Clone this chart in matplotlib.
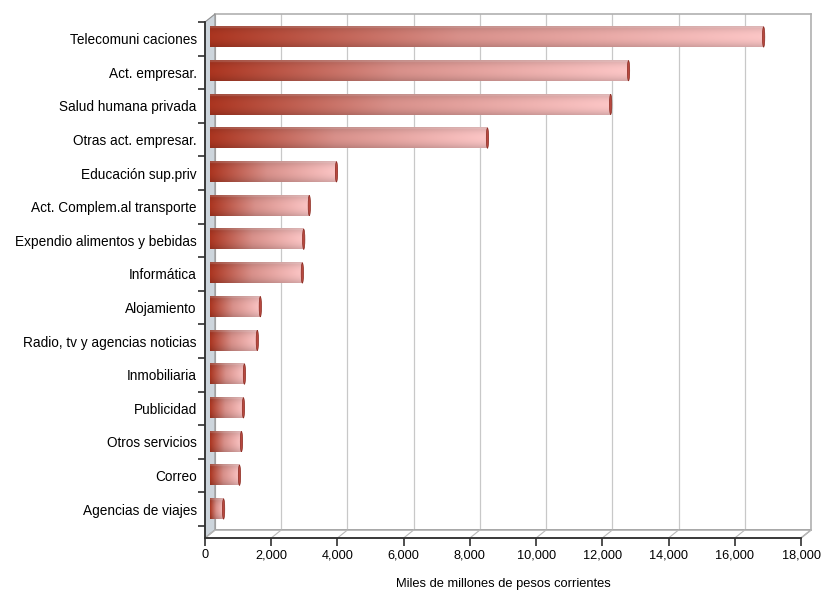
import numpy as np
import matplotlib
matplotlib.use("Agg")
import matplotlib.pyplot as plt
from matplotlib.patches import Polygon, Ellipse
from matplotlib.colors import to_rgb

# dati
categorie = ["Telecomuni caciones", "Act. empresar.", "Salud humana privada",
             "Otras act. empresar.", "Educación sup.priv", "Act. Complem.al transporte",
             "Expendio alimentos y bebidas", "Informática", "Alojamiento",
             "Radio, tv y agencias noticias", "Inmobiliaria", "Publicidad",
             "Otros servicios", "Correo", "Agencias de viajes"]
valori = [16720, 12640, 12100, 8380, 3820, 3000, 2830, 2790, 1520, 1430,
          1040, 1010, 950, 890, 410]
xticks = list(range(0, 18001, 2000))

plt.rcParams['font.family'] = ['Liberation Sans', 'DejaVu Sans']

W, H = 822, 599
fig = plt.figure(figsize=(W / 100, H / 100), dpi=100)

# geometria in pixel
x0, x1 = 205, 801
yb, yt = 538, 22
dx, dy = 10, 8

def fx(px):
    return px / W

def fy(py):
    return 1 - py / H

n = len(categorie)
spacing = (509 - 37) / (n - 1)

def limiti_y(top, bottom):
    return (n - 1 + (bottom - 509) / spacing, -(37 - top) / spacing)

# piano di fondo con griglia
back = fig.add_axes([fx(x0 + dx), fy(yb - dy), fx(x1 - x0), (yb - yt) / H], zorder=0)
back.set_xlim(0, 18000)
back.set_xticks(xticks)
back.grid(axis='x', color='#c8c8c8', lw=0.9)
back.tick_params(left=False, bottom=False, labelleft=False, labelbottom=False)
for s in back.spines.values():
    s.set_color('#b0b0b0')
    s.set_linewidth(1.2)

# parete sinistra e pavimento
wall = Polygon([(fx(x0), fy(yb)), (fx(x0), fy(yt)), (fx(x0 + dx), fy(yt - dy)),
                (fx(x0 + dx), fy(yb - dy))], closed=True, transform=fig.transFigure,
               facecolor='#cdd5dc', edgecolor='#909090', lw=0.8, zorder=1)
fig.add_artist(wall)
floor = Polygon([(fx(x0), fy(yb)), (fx(x1), fy(yb)), (fx(x1 + dx), fy(yb - dy)),
                 (fx(x0 + dx), fy(yb - dy))], closed=True, transform=fig.transFigure,
                facecolor='white', edgecolor='#a0a0a0', lw=1.0, zorder=1)
fig.add_artist(floor)
for t in xticks:
    px = x0 + (x1 - x0) * t / 18000
    fig.add_artist(plt.Line2D([fx(px), fx(px + dx)], [fy(yb), fy(yb - dy)],
                              transform=fig.transFigure, color='#b8b8b8', lw=0.8, zorder=1))

# barre a meta' profondita'
mx, my = dx / 2, dy / 2
bx = fig.add_axes([fx(x0 + mx), fy(yb - my), fx(x1 - x0), (yb - yt) / H], zorder=2)
bx.patch.set_alpha(0)
bx.axis('off')

c_left = np.array(to_rgb('#ab3520'))
c_mid = np.array(to_rgb('#d8908a'))
c_right = np.array(to_rgb('#fcc6c6'))
hgrid = np.linspace(0, 1, 200)
grad = np.where(hgrid[:, None] < 0.45,
                c_left + (c_mid - c_left) * (hgrid[:, None] / 0.45),
                c_mid + (c_right - c_mid) * ((hgrid[:, None] - 0.45) / 0.55))
vgrid = np.linspace(-1, 1, 30)
shade = 1 - 0.15 * vgrid ** 2
img = np.clip(grad[None, :, :] * shade[:, None, None], 0, 1)
img[:3] = np.clip(img[:3] * 0.85 + 0.15, 0, 1)

h = 0.6
for i, v in enumerate(valori):
    bx.imshow(img, extent=[0, v, i + h / 2, i - h / 2], aspect='auto',
              interpolation='bilinear', zorder=3)
    bx.add_patch(Ellipse((v, i), 70, h, facecolor='#b8483f', edgecolor='#8a2a20',
                         lw=0.5, zorder=4))
bx.set_xlim(0, 18000)
bx.set_ylim(*limiti_y(yt - my, yb - my))

# assi principali (etichette e tacche)
ax = fig.add_axes([fx(x0), fy(yb), fx(x1 - x0), (yb - yt) / H], zorder=3)
ax.patch.set_alpha(0)
ax.set_xlim(0, 18000)
ax.set_ylim(*limiti_y(yt, yb))

ax.set_yticks(np.arange(n + 1) - 0.5)
ax.set_yticklabels([])
ax.set_yticks(np.arange(n), minor=True)
ax.set_yticklabels(categorie, minor=True, fontsize=9.8)
ax.tick_params(axis='y', which='minor', length=0, pad=6)
ax.tick_params(axis='y', which='major', length=5, width=1.2, color='#303030')

ax.set_xticks(xticks)
ax.set_xticklabels([f"{t:,}" for t in xticks], fontsize=9.2)
ax.tick_params(axis='x', length=6, width=1.2, color='#303030', pad=2)
ax.set_xlabel("Miles de millones de pesos corrientes", fontsize=9.3, labelpad=12)

for s in ['top', 'right']:
    ax.spines[s].set_visible(False)
for s in ['left', 'bottom']:
    ax.spines[s].set_color('#303030')
    ax.spines[s].set_linewidth(1.3)

fig.savefig("out.png", dpi=100)
